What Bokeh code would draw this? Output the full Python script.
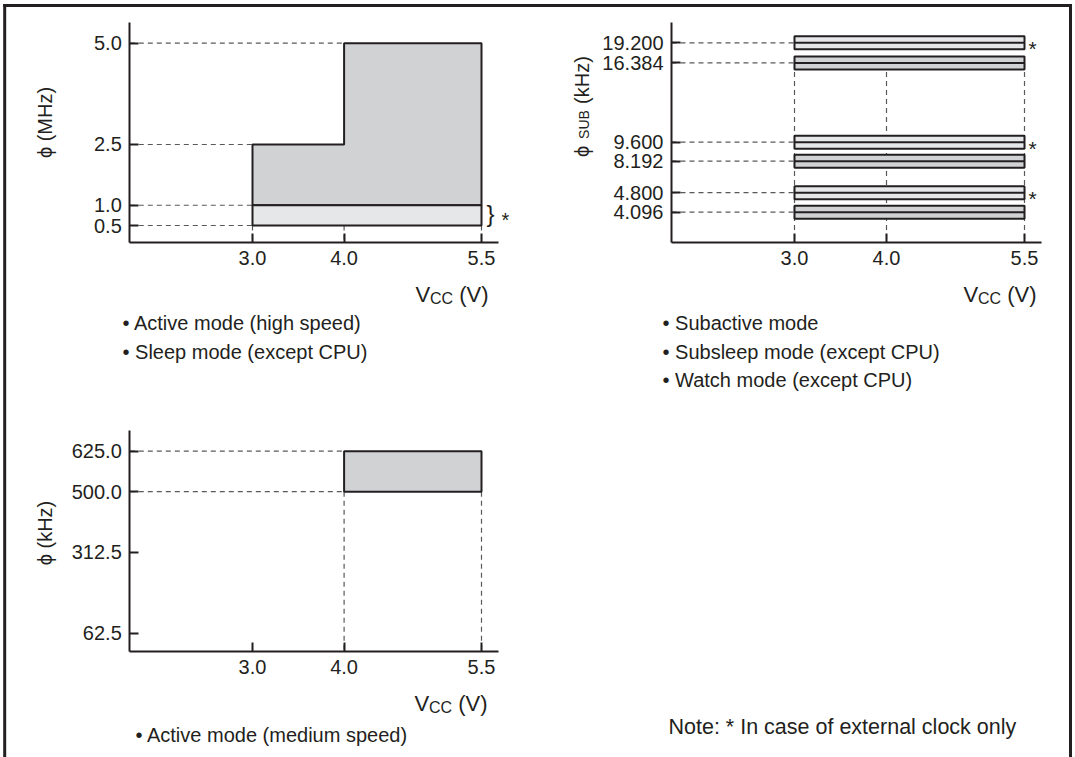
import math
from bokeh.plotting import figure
from bokeh.models import (Range1d, Label, FixedTicker, PrintfTickFormatter,
                          CustomJSTickFormatter, LinearAxis, ColumnDataSource)
from bokeh.embed import file_html
from bokeh.resources import INLINE
from bokeh.core.properties import value

# ---------------- data ----------------
vcc_ticks = [3.0, 4.0, 5.5]

# Active (high speed) / Sleep : phi in MHz
hs_freq_ticks = [0.5, 1.0, 2.5, 5.0]
hs_vcc_lo = [3.0, 4.0]
hs_vcc_hi = [4.0, 5.5]
hs_phi_max = [2.5, 5.0]
hs_phi_min = 1.0
hs_ext_phi_min = 0.5

# Subactive / Subsleep / Watch : phi SUB in kHz (schematic axis)
sub_freq_labels = ["19.200", "16.384", "9.600", "8.192", "4.800", "4.096"]
sub_external = [True, False, True, False, True, False]
sub_vcc_min = 3.0
sub_vcc_max = 5.5

# Active (medium speed) : phi in kHz
ms_freq_ticks = [62.5, 312.5, 500.0, 625.0]
ms_vcc_min = 4.0
ms_vcc_max = 5.5
ms_phi_min = 500.0
ms_phi_max = 625.0

notes_hs = ["\u2022 Active mode (high speed)", "\u2022 Sleep mode (except CPU)"]
notes_sub = ["\u2022 Subactive mode", "\u2022 Subsleep mode (except CPU)",
             "\u2022 Watch mode (except CPU)"]
notes_ms = ["\u2022 Active mode (medium speed)"]
note_text = "Note: * In case of external clock only"

# ---------------- layout / style ----------------
W, H = 1075, 757
# row positions of the schematic sub-clock axis (in row units, top = 0)
SUB_ROW_POS = [0.0, 1.03, 5.10, 6.07, 7.69, 8.69]
# page position of the outer frame lines
BORDER_L, BORDER_T, BORDER_R = 4.2, 5.0, 1070.0

FONT = "Liberation Sans"
INK = "#231f20"
DASH = "#58595b"
DARK_FILL = "#d1d2d4"
LIGHT_FILL = "#e6e7e8"
DASH_PAT = "5 4"
FS = 20


class Panel:
    """one chart drawn on the shared canvas with its own pair of ranges"""

    def __init__(self, xa, ya, xn, yn):
        (self.ax1, self.apx1), (self.ax2, self.apx2) = xa
        (self.ay1, self.apy1), (self.ay2, self.apy2) = ya
        self.kw = dict(x_range_name=xn, y_range_name=yn)

    def x(self, px):
        return self.ax1 + (px - self.apx1) * (self.ax2 - self.ax1) / (self.apx2 - self.apx1)

    def y(self, py):
        return self.ay1 + (py - self.apy1) * (self.ay2 - self.ay1) / (self.apy2 - self.apy1)

    def xrange(self):
        return Range1d(self.x(0), self.x(W))

    def yrange(self):
        return Range1d(self.y(H), self.y(0))


P1 = Panel(((3.0, 252.0), (5.5, 481.0)), ((5.0, 42.7), (0.5, 225.0)), "default", "default")
P2 = Panel(((3.0, 794.0), (5.5, 1024.0)), ((SUB_ROW_POS[0], 42.3), (SUB_ROW_POS[-1], 211.7)),
           "x2", "y2")
P3 = Panel(((3.0, 252.0), (5.5, 481.0)), ((625.0, 450.7), (62.5, 632.7)), "default", "y3")

p = figure(width=W, height=H, x_range=P1.xrange(), y_range=P1.yrange(), title=None,
           x_axis_type=None, y_axis_type=None, output_backend="svg",
           toolbar_location=None, min_border=0)
p.extra_x_ranges = {"x2": P2.xrange()}
p.extra_y_ranges = {"y2": P2.yrange(), "y3": P3.yrange()}
p.outline_line_color = None
p.background_fill_color = "white"
p.border_fill_color = "white"

# outer frame
p.segment(x0=[P1.x(BORDER_L), P1.x(BORDER_L), P1.x(BORDER_R)],
          y0=[P1.y(BORDER_T)] * 3,
          x1=[P1.x(BORDER_L), P1.x(BORDER_R), P1.x(BORDER_R)],
          y1=[P1.y(H), P1.y(BORDER_T), P1.y(H)],
          line_color=INK, line_width=3, line_cap="square")


def style_axis(ax, standoff):
    ax.axis_line_color = INK
    ax.axis_line_width = 2
    ax.major_tick_line_color = INK
    ax.major_tick_line_width = 2
    ax.major_tick_in = 9
    ax.major_tick_out = 0
    ax.minor_tick_line_color = None
    ax.major_label_text_font = FONT
    ax.major_label_text_font_size = f"{FS}px"
    ax.major_label_text_color = INK
    ax.major_label_standoff = standoff


def add_axes(P, box, yticks, yfmt):
    left, bottom, right, top = box
    X0, X1 = P.x(left), P.x(right)
    Y0, Y1 = P.y(bottom), P.y(top)
    xa = LinearAxis(fixed_location=Y0, bounds=(X0, X1),
                    ticker=FixedTicker(ticks=vcc_ticks),
                    formatter=PrintfTickFormatter(format="%.1f"), **P.kw)
    ya = LinearAxis(fixed_location=X0, bounds=(min(Y0, Y1), max(Y0, Y1)),
                    ticker=FixedTicker(ticks=yticks), formatter=yfmt, **P.kw)
    style_axis(xa, 8)
    style_axis(ya, 8)
    p.add_layout(xa, "below")
    p.add_layout(ya, "left")
    return X0, Y0


def txt(P, px, py, text, size=FS, align="left", baseline="middle", angle=0.0):
    p.add_layout(Label(x=P.x(px), y=P.y(py), text=text, text_font=FONT,
                       text_font_size=f"{size}px", text_color=INK,
                       text_align=align, text_baseline=baseline, angle=angle, **P.kw))


def vcc_label(P, xl, xr, yc):
    txt(P, xl, yc, "V", size=22)
    txt(P, xl + 14.5, yc + 4.2, "CC", size=16)
    txt(P, xr, yc, "(V)", size=22, align="right")


dash_kw = dict(line_color=DASH, line_width=1.2, line_dash=DASH_PAT)

# ---------------- panel 1 : high speed ----------------
X0, Y0 = add_axes(P1, (129.3, 242.3, 498.0, 21.7), hs_freq_ticks,
                  PrintfTickFormatter(format="%.1f"))


def hs_edge(f):
    return min(lo for lo, fm in zip(hs_vcc_lo, hs_phi_max) if fm >= f)


p.segment(x0=X0, y0=hs_freq_ticks, x1=[hs_edge(f) for f in hs_freq_ticks],
          y1=hs_freq_ticks, **dash_kw)
p.segment(x0=vcc_ticks, y0=hs_ext_phi_min, x1=vcc_ticks, y1=Y0, **dash_kw)

px, py = [hs_vcc_lo[0]], [hs_phi_min]
for lo, hi, fm in zip(hs_vcc_lo, hs_vcc_hi, hs_phi_max):
    px += [lo, hi]
    py += [fm, fm]
px.append(hs_vcc_hi[-1])
py.append(hs_phi_min)
p.patch(px, py, fill_color=DARK_FILL, line_color=INK, line_width=2)
p.quad(left=hs_vcc_lo[0], right=hs_vcc_hi[-1], bottom=hs_ext_phi_min,
       top=hs_phi_min, fill_color=LIGHT_FILL, line_color=INK, line_width=2)

txt(P1, 44.5, 122, "\u03d5 (MHz)", align="center", angle=math.pi / 2)
txt(P1, 486, 212.5, "}", size=24)
txt(P1, 501, 219.5, "*")
vcc_label(P1, 415, 488, 293.8)
for i, t in enumerate(notes_hs):
    txt(P1, 122, 322.5 + 28.5 * i, t)

# ---------------- panel 2 : sub clock ----------------
sub_fmt = CustomJSTickFormatter(
    args=dict(pos=SUB_ROW_POS, lab=sub_freq_labels),
    code="for (let i = 0; i < pos.length; i++) {"
         " if (Math.abs(pos[i] - tick) < 1e-6) return lab[i]; } return '';")
X0b, Y0b = add_axes(P2, (671.0, 242.3, 1041.0, 21.7), SUB_ROW_POS, sub_fmt)

v_top = [r for r, e in zip(SUB_ROW_POS, sub_external) if not e][0]
p.segment(x0=vcc_ticks, y0=v_top, x1=vcc_ticks, y1=Y0b, **dash_kw, **P2.kw)

bsrc = ColumnDataSource(dict(
    y=SUB_ROW_POS,
    fill=[LIGHT_FILL if e else DARK_FILL for e in sub_external],
))
p.segment(x0=X0b, y0="y", x1=sub_vcc_min, y1="y", source=bsrc, **dash_kw, **P2.kw)
p.rect(x=(sub_vcc_min + sub_vcc_max) / 2, y="y", width=sub_vcc_max - sub_vcc_min,
       height=13, height_units="screen", fill_color="fill", line_color=INK,
       line_width=2, source=bsrc, **P2.kw)
p.segment(x0=sub_vcc_min, y0="y", x1=sub_vcc_max, y1="y", source=bsrc,
          line_color=INK, line_width=2, **P2.kw)
asrc = ColumnDataSource(dict(y=[r for r, e in zip(SUB_ROW_POS, sub_external) if e]))
p.text(x=sub_vcc_max, y="y", text=value("*"), source=asrc, x_offset=4,
       y_offset=6, text_font=value(FONT), text_font_size="21px",
       text_color=INK, text_baseline="middle", **P2.kw)

txt(P2, 581, 151, "\u03d5", align="center", angle=math.pi / 2)
txt(P2, 583, 124, "SUB", size=14, align="center", angle=math.pi / 2)
txt(P2, 581, 79.5, "(kHz)", align="center", angle=math.pi / 2)
vcc_label(P2, 963, 1036, 293.8)
for i, t in enumerate(notes_sub):
    txt(P2, 662, 322.5 + 28.5 * i, t)

# ---------------- panel 3 : medium speed + note ----------------
X0c, Y0c = add_axes(P3, (129.3, 651.0, 498.0, 430.0), ms_freq_ticks,
                    PrintfTickFormatter(format="%.1f"))
ms_levels = [ms_phi_max, ms_phi_min]
p.segment(x0=X0c, y0=ms_levels, x1=ms_vcc_min, y1=ms_levels, **dash_kw, **P3.kw)
p.segment(x0=[ms_vcc_min, ms_vcc_max], y0=ms_phi_min,
          x1=[ms_vcc_min, ms_vcc_max], y1=Y0c, **dash_kw, **P3.kw)
p.quad(left=ms_vcc_min, right=ms_vcc_max, bottom=ms_phi_min, top=ms_phi_max,
       fill_color=DARK_FILL, line_color=INK, line_width=2, **P3.kw)

txt(P3, 44.5, 532.5, "\u03d5 (kHz)", align="center", angle=math.pi / 2)
vcc_label(P3, 414, 487, 702.5)
for i, t in enumerate(notes_ms):
    txt(P3, 135, 734 + 28.5 * i, t)
txt(P3, 668, 726, note_text, size=21.5)

open("out.html", "w").write(file_html(p, INLINE))
